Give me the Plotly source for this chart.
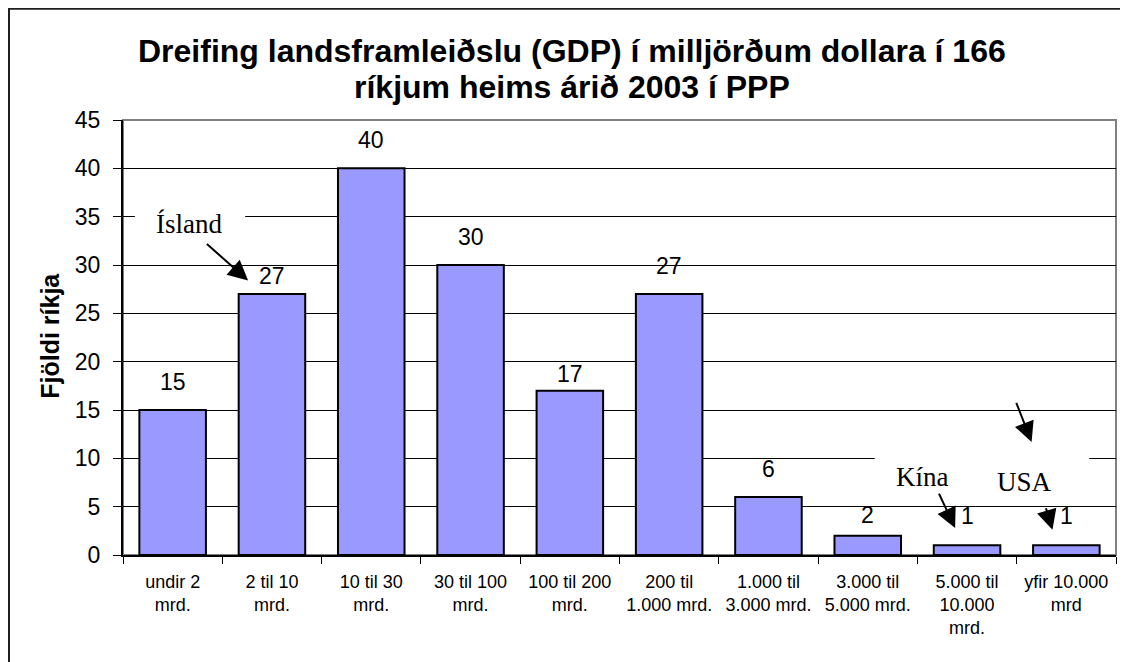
"""
GDP dreifing - súlurit í Excel-stíl
"""
import plotly.graph_objects as go

# gögn
CATEGORIES = [
    "undir 2<br>mrd.",
    "2 til 10<br>mrd.",
    "10 til 30<br>mrd.",
    "30 til 100<br>mrd.",
    "100 til 200<br>mrd.",
    "200 til<br>1.000 mrd.",
    "1.000 til<br>3.000 mrd.",
    "3.000 til<br>5.000 mrd.",
    "5.000 til<br>10.000<br>mrd.",
    "yfir 10.000<br>mrd",
]
COUNTS = [15, 27, 40, 30, 17, 27, 6, 2, 1, 1]
Y_TICKS = [0, 5, 10, 15, 20, 25, 30, 35, 40, 45]

TITLE_LINES = [
    "Dreifing landsframleiðslu (GDP) í milljörðum dollara í 166",
    "ríkjum heims árið 2003 í PPP",
]
SANS = "Liberation Sans, Arial, sans-serif"
SERIF = "Liberation Serif, Times New Roman, serif"
BAR_COLOR = "#9999FF"

# bil (px) milli súlu og gildismerkis - sum merki voru færð til í frumritinu
LABEL_GAP = [18, 8, 18, 18, 7, 18, 18, 11, 19, 19]

fig = go.Figure()
fig.add_trace(go.Bar(
    x=CATEGORIES,
    y=COUNTS,
    marker=dict(color=BAR_COLOR, line=dict(color="black", width=2)),
    hoverinfo="skip",
))

# athugasemdir (texti + örvar)
notes = [
    dict(x=0.165, y=34.2, text="Ísland"),
    dict(x=7.55, y=8.1, text="Kína"),
    dict(x=8.58, y=7.6, text="USA"),
]
arrows = [
    # (hali x, hali y, oddur x, oddur y)
    (0.33, 32.3, 0.76, 28.4),
    (7.71, 6.5, 7.88, 2.8),
    (8.79, 5.0, 8.86, 2.6),
    (8.49, 15.9, 8.65, 11.7),
]

annotations = []
# gildismerki ofan á súlum
for cat, val, gap in zip(CATEGORIES, COUNTS, LABEL_GAP):
    annotations.append(dict(
        x=cat, y=val, xref="x", yref="y", text=str(val), showarrow=False,
        xanchor="center", yanchor="bottom", yshift=gap - 5,
        font=dict(family=SANS, size=23, color="black"),
    ))
# titill í tveimur línum (þéttara línubil en í plotly titli)
for line, ty in zip(TITLE_LINES, [1.1586, 1.0759]):
    annotations.append(dict(
        x=0.4517, y=ty, xref="paper", yref="paper", text=f"<b>{line}</b>",
        showarrow=False, xanchor="center", yanchor="middle",
        font=dict(family=SANS, size=32, color="black"),
    ))
for n in notes:
    annotations.append(dict(
        x=n["x"], y=n["y"], xref="x", yref="y", text=n["text"], showarrow=False,
        font=dict(family=SERIF, size=27, color="black"),
    ))
for tx, ty, hx, hy in arrows:
    annotations.append(dict(
        x=hx, y=hy, ax=tx, ay=ty, xref="x", yref="y", axref="x", ayref="y",
        text="", showarrow=True, arrowhead=2, arrowsize=2, arrowwidth=2,
        arrowcolor="black", standoff=0, startstandoff=0,
    ))
# y-ás titill
annotations.append(dict(
    x=-0.0735, y=0.504, xref="paper", yref="paper", text="<b>Fjöldi ríkja</b>",
    textangle=-90, showarrow=False, xanchor="center", yanchor="middle",
    font=dict(family=SANS, size=25, color="black"),
))

shapes = [
    # hvítir kassar á bak við texta (fela hnitalínur)
    dict(type="rect", xref="x", yref="y", x0=-0.38, x1=0.73, y0=33, y1=37,
         fillcolor="white", line=dict(width=0), layer="between"),
    dict(type="rect", xref="x", yref="y", x0=7.07, x1=9.23, y0=7, y1=13,
         fillcolor="white", line=dict(width=0), layer="between"),
    # rammi teiknisvæðis (grár)
    dict(type="rect", xref="paper", yref="paper", x0=0, x1=1, y0=0, y1=1,
         line=dict(color="#808080", width=2), layer="below"),
    # ytri rammi myndar
    dict(type="rect", xref="paper", yref="paper", x0=-0.1148, x1=1.05, y0=-0.35, y1=1.2555,
         line=dict(color="#202020", width=2), layer="below"),
]

# síðan hefur 8px spássíu í body, svo myndin er 8px minni
fig.update_layout(
    width=1120,
    height=654,
    plot_bgcolor="white",
    paper_bgcolor="white",
    margin=dict(l=115, r=12, t=112, b=107),
    bargap=0.33,
    showlegend=False,
    annotations=annotations,
    shapes=shapes,
    font=dict(family=SANS, color="black"),
)
fig.update_xaxes(
    type="category",
    tickson="boundaries",
    ticks="outside",
    ticklen=7,
    tickcolor="black",
    tickwidth=1,
    showline=True,
    linecolor="black",
    linewidth=2,
    showgrid=False,
    tickfont=dict(family=SANS, size=18, color="black"),
    tickangle=0,
    ticklabelstandoff=9,
)
fig.update_yaxes(
    range=[0, 45],
    tickmode="array",
    tickvals=Y_TICKS,
    ticks="outside",
    ticklen=8,
    tickcolor="black",
    showline=True,
    linecolor="black",
    linewidth=2,
    showgrid=True,
    gridcolor="black",
    gridwidth=1,
    zeroline=False,
    tickfont=dict(family=SANS, size=23, color="black"),
    ticklabelstandoff=8,
)

fig.write_html("out.html")
